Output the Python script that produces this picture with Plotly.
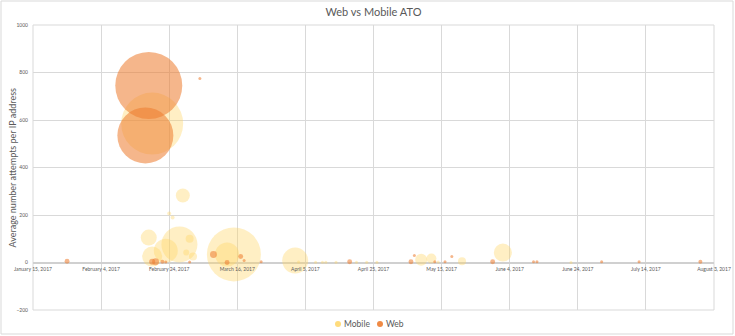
import plotly.graph_objects as go

# Mobile account-takeover attempts: date, avg attempts per IP, bubble size
mobile_dates = ["2017-02-19", "2017-02-28", "2017-02-24", "2017-02-25", "2017-02-18",
                "2017-02-27", "2017-02-23", "2017-02-19", "2017-03-02", "2017-03-01",
                "2017-03-03", "2017-03-15", "2017-03-13", "2017-04-02", "2017-04-03",
                "2017-04-08", "2017-04-10", "2017-04-11", "2017-04-14", "2017-04-20",
                "2017-04-23", "2017-04-26", "2017-05-09", "2017-05-12", "2017-05-14",
                "2017-05-21", "2017-06-02", "2017-06-22"]
mobile_attempts = [585, 282, 206, 190, 105, 76, 50, 25, 100, 42,
                   25, 34, 34, 8, 2, 1, 1, 1, 1, 1,
                   1, 1, 12, 17, 2, 5, 42, 0]
mobile_size = [961, 49, 4, 4, 64, 324, 144, 100, 16, 9,
               16, 729, 144, 169, 2, 2, 2, 2, 2, 2,
               2, 2, 36, 25, 2, 16, 81, 1]

# Web account-takeover attempts
web_dates = ["2017-02-18", "2017-02-17", "2017-03-05", "2017-01-25", "2017-02-19",
             "2017-02-20", "2017-02-22", "2017-02-23", "2017-03-02", "2017-03-09",
             "2017-03-13", "2017-03-17", "2017-03-18", "2017-03-23", "2017-04-18",
             "2017-05-06", "2017-05-07", "2017-05-13", "2017-05-16", "2017-05-18",
             "2017-05-30", "2017-06-11", "2017-06-12", "2017-07-01", "2017-07-12",
             "2017-07-30"]
web_attempts = [745, 535, 775, 5, 3, 3, 3, 2, 2, 34,
                0, 25, 8, 3, 3, 3, 30, 3, 3, 25,
                3, 3, 3, 3, 3, 3]
web_size = [1122, 784, 2, 6, 9, 12, 4, 2, 2, 12,
            6, 6, 1, 1, 6, 6, 1, 2, 2, 1,
            6, 1, 2, 1, 2, 4]

series_names = ["Mobile", "Web"]

x_range = ["2017-01-15", "2017-08-03"]
y_range = [-200, 1000]
y_ticks = [-200, 0, 200, 400, 600, 800, 1000]

max_diameter = 67
sizeref = 2.0 * max(mobile_size + web_size) / (max_diameter ** 2)

text_grey = "#595959"
grid_grey = "#D9D9D9"
font_family = "Lato, 'Open Sans', sans-serif"
mobile_color = "rgba(255,214,102,0.55)"
web_color = "rgba(237,125,49,0.8)"
key_colors = ["rgba(255,214,102,0.85)", "rgba(237,125,49,0.9)"]

fig = go.Figure()
fig.add_trace(go.Scatter(
    x=mobile_dates, y=mobile_attempts, mode="markers", name=series_names[0],
    marker=dict(size=mobile_size, sizemode="area", sizeref=sizeref, sizemin=1.5,
                color=mobile_color, line=dict(width=0)),
))
fig.add_trace(go.Scatter(
    x=web_dates, y=web_attempts, mode="markers", name=series_names[1],
    marker=dict(size=web_size, sizemode="area", sizeref=sizeref, sizemin=1.5,
                color=web_color, line=dict(width=0)),
))

W, H = 735, 336
ml, mr, mt, mb = 33, 21, 25, 26
pw, ph = W - ml - mr, H - mt - mb


def px_x(px):
    return (px - ml) / pw


def px_y(py):
    return (mt + ph - py) / ph


shapes = [
    # plot area edges
    dict(type="rect", xref="paper", yref="paper", x0=0, x1=1, y0=0, y1=1,
         line=dict(color=grid_grey, width=1), layer="below"),
    # chart frame
    dict(type="rect", xref="paper", yref="paper",
         x0=px_x(1), x1=px_x(W - 2), y0=px_y(H - 2), y1=px_y(1),
         line=dict(color=grid_grey, width=1)),
]
annotations = [dict(
    text="Average number attempts per IP address", textangle=-90,
    xref="paper", yref="paper", x=px_x(12), y=0.5,
    xanchor="center", yanchor="middle", showarrow=False,
    font=dict(size=9, color=text_grey),
)]

# compact legend row under the plot: small key dot followed by series name
legend_y = px_y(324)
for name, color, key_x in zip(series_names, key_colors, [338, 380]):
    shapes.append(dict(type="circle", xref="paper", yref="paper",
                       xsizemode="pixel", ysizemode="pixel",
                       xanchor=px_x(key_x), yanchor=legend_y,
                       x0=-3, x1=3, y0=-3, y1=3,
                       fillcolor=color, line=dict(width=0)))
    annotations.append(dict(text=name, xref="paper", yref="paper",
                            x=px_x(key_x + 4), y=legend_y, xanchor="left",
                            yanchor="middle", showarrow=False,
                            font=dict(size=8.5, color=text_grey)))

fig.update_layout(
    width=W, height=H,
    margin=dict(l=ml, r=mr, t=mt, b=mb, autoexpand=False),
    paper_bgcolor="white", plot_bgcolor="white",
    font=dict(family=font_family, color=text_grey),
    title=dict(text="Web vs Mobile ATO", x=0.5, xref="paper", y=1 - 12 / H,
               yanchor="middle", font=dict(size=11, color=text_grey)),
    showlegend=False,
    xaxis=dict(
        type="date", range=x_range, tick0=x_range[0], dtick=20 * 86400000,
        tickformat="%B %-d, %Y", tickfont=dict(size=5, color=text_grey),
        showgrid=True, gridcolor=grid_grey, gridwidth=1,
        anchor="free", position=(0 - y_range[0]) / (y_range[1] - y_range[0]),
        showline=False, ticks="", zeroline=False, ticklabelstandoff=2,
    ),
    yaxis=dict(
        range=y_range, tickvals=y_ticks, tickfont=dict(size=5, color=text_grey),
        showgrid=True, gridcolor=grid_grey, gridwidth=1,
        zeroline=True, zerolinecolor="#D0D0D0", zerolinewidth=1.5,
        showline=False, ticks="", ticklabelstandoff=4,
    ),
    annotations=annotations,
    shapes=shapes,
)

fig.write_html("out.html")
